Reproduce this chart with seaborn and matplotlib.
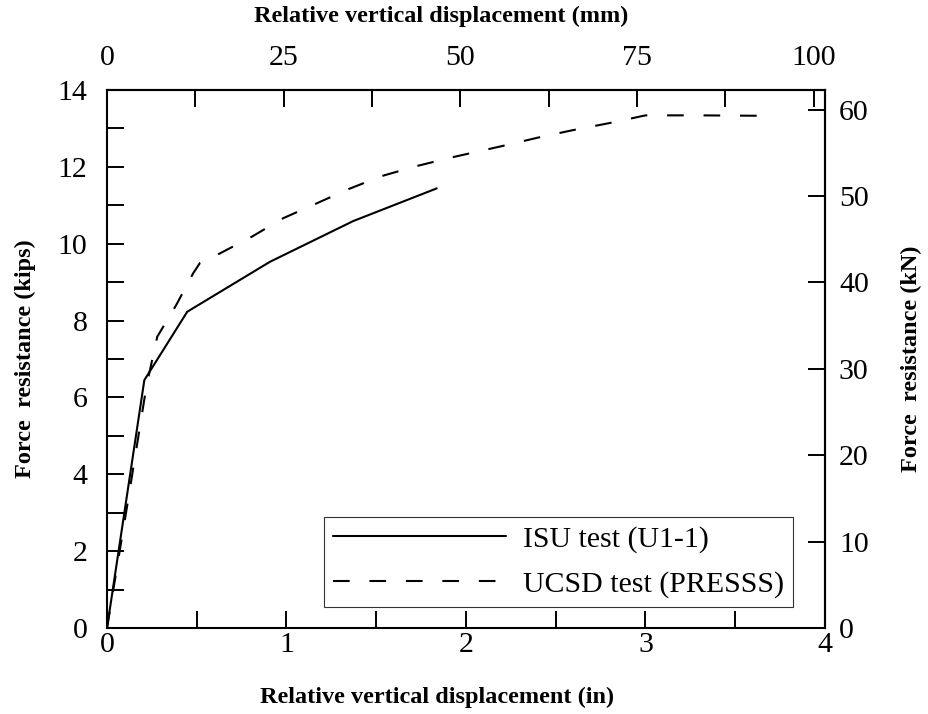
import numpy as np
import pandas as pd
import matplotlib
matplotlib.use("Agg")
import matplotlib.pyplot as plt
from matplotlib.ticker import MultipleLocator
import seaborn as sns

# ---- data ----
isu_x = [0.0, 0.208, 0.447, 0.908, 1.372, 1.837]
isu_y = [0.0, 6.45, 8.23, 9.53, 10.59, 11.44]

ucsd_x = [0.0, 0.12, 0.22, 0.28, 0.385, 0.48, 0.518, 0.63, 0.806, 0.98, 1.168,
          1.345, 1.53, 1.725, 1.915, 2.2, 2.4, 2.6, 2.8, 3.0, 3.3, 3.62]
ucsd_y = [0.0, 3.4, 6.3, 7.58, 8.4, 9.23, 9.5, 9.75, 10.18, 10.66, 11.05,
          11.42, 11.76, 12.02, 12.24, 12.54, 12.76, 12.96, 13.14, 13.34, 13.34, 13.33]

series_names = ["ISU test (U1-1)", "UCSD test (PRESSS)"]
x_ticks_in = [0, 1, 2, 3, 4]
y_ticks_kips = [0, 2, 4, 6, 8, 10, 12, 14]
x_ticks_mm = [0, 25, 50, 75, 100]
y_ticks_kn = [0, 10, 20, 30, 40, 50, 60]

df = pd.concat([
    pd.DataFrame({"x": isu_x, "y": isu_y, "series": series_names[0]}),
    pd.DataFrame({"x": ucsd_x, "y": ucsd_y, "series": series_names[1]}),
], ignore_index=True)

sns.set_style("ticks")
plt.rcParams["font.family"] = ["Liberation Serif", "DejaVu Serif"]
for k in ["text.color", "axes.labelcolor", "xtick.color", "ytick.color", "axes.edgecolor"]:
    plt.rcParams[k] = "black"

FS = 21.5
LFS = 17.5
LW = 1.5

fig = plt.figure(figsize=(9.29, 7.14), dpi=100)
ax = fig.add_axes([107/929, 1-628/714, (825-107)/929, (628-90)/714])

sns.lineplot(data=df, x="x", y="y", hue="series", style="series",
             palette=["black", "black"], dashes=[(None, None), (8, 9.5)],
             linewidth=LW, sort=False, estimator=None, ax=ax, legend=True)

ax.set_xlim(0, 4)
ax.set_ylim(0, 14)
ax.set_xticks(x_ticks_in)
ax.set_yticks(y_ticks_kips)
ax.xaxis.set_minor_locator(MultipleLocator(0.5))
ax.yaxis.set_minor_locator(MultipleLocator(1))
for s in ax.spines.values():
    s.set_visible(True)
    s.set_linewidth(1.5)
    s.set_color("black")
ax.tick_params(which="both", direction="in", length=12, width=1.4, color="black",
               labelsize=FS, labelcolor="black", top=False, right=False)
ax.tick_params(axis="x", which="major", pad=3)
ax.tick_params(axis="y", which="major", pad=14)
ax.set_xlabel("Relative vertical displacement (in)", fontsize=LFS, fontweight="bold")
ax.xaxis.set_label_coords((437-107)/718, -(697-628)/538)
ax.xaxis.label.set_va("center")
ax.set_ylabel("Force  resistance (kips)", fontsize=LFS, fontweight="bold")
ax.yaxis.set_label_coords(-(107-25)/718, 0.5)
ax.yaxis.label.set_va("center")

secx = ax.secondary_xaxis("top", functions=(lambda v: v * 25.4, lambda v: v / 25.4))
secx.set_xticks(x_ticks_mm)
secx.xaxis.set_minor_locator(MultipleLocator(12.5))
secx.tick_params(which="both", direction="in", length=12, width=1.4, color="black",
                 labelsize=FS, labelcolor="black", pad=14)
secx.set_xlabel("Relative vertical displacement (mm)", fontsize=LFS, fontweight="bold")
secx.xaxis.set_label_coords((441-107)/718, 1 + (90-16)/538, transform=ax.transAxes)
secx.xaxis.label.set_va("center")
secx.spines["top"].set_linewidth(1.5)

secy = ax.secondary_yaxis("right", functions=(lambda v: v * 4.44822, lambda v: v / 4.44822))
secy.set_yticks(y_ticks_kn)
secy.tick_params(which="both", direction="in", length=12, width=1.4, color="black",
                 labelsize=FS, labelcolor="black", pad=10)
secy.set_ylabel("Force  resistance (kN)", fontsize=LFS, fontweight="bold")
secy.yaxis.set_label_coords(1 + (911-825)/718, 0.5, transform=ax.transAxes)
secy.yaxis.label.set_va("center")
secy.spines["right"].set_linewidth(1.5)

leg = ax.legend(loc="lower right", bbox_to_anchor=(0.955, 0.039), borderaxespad=0,
                fontsize=FS, handlelength=5.8, handletextpad=0.55, borderpad=0.3,
                labelspacing=0.6, frameon=True, fancybox=False, framealpha=1,
                edgecolor="#333333", title=None)
leg.get_frame().set_linewidth(0.8)
for h in leg.get_lines():
    h.set_linewidth(LW)

fig.savefig("out.png", dpi=100)
